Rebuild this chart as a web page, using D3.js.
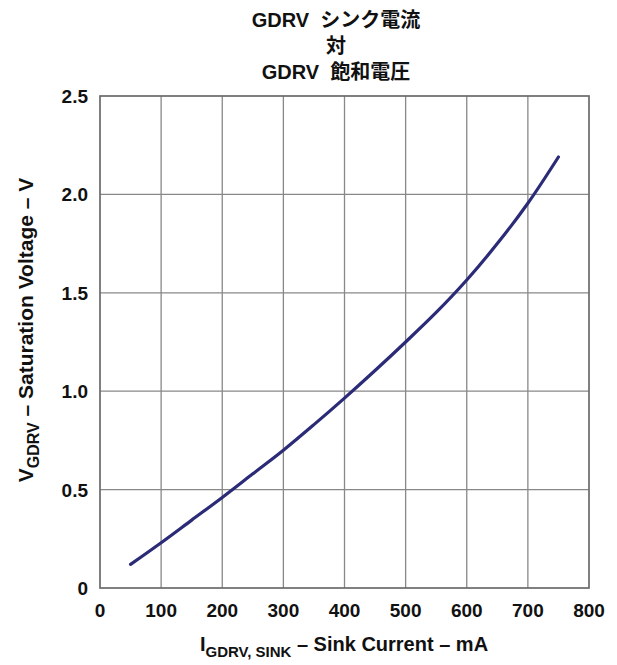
<!DOCTYPE html>
<html><head><meta charset="utf-8">
<script src="https://cdn.jsdelivr.net/npm/d3@7"></script>
<style>body{margin:0;background:#fff}</style>
</head><body>
<svg id="c" width="617" height="665"></svg>
<script>
const currentMA = [50,100,150,200,250,300,350,400,450,500,550,600,650,700,750];
const voltageV  = [0.12,0.23,0.345,0.46,0.58,0.70,0.83,0.965,1.105,1.25,1.40,1.565,1.75,1.955,2.19];
const xTicks = [0,100,200,300,400,500,600,700,800];
const yTicks = [0,0.5,1.0,1.5,2.0,2.5];
const yTickLabels = ["0","0.5","1.0","1.5","2.0","2.5"];
const titleLines = ["GDRV\u00a0\u00a0シンク電流","対","GDRV\u00a0\u00a0飽和電圧"];

const svg = d3.select("#c");
const L=100, R=589, T=96, B=588;
const x = d3.scaleLinear().domain([0,800]).range([L,R]);
const y = d3.scaleLinear().domain([0,2.5]).range([B,T]);
const font = "'Liberation Sans', Arial, 'Noto Sans CJK JP', sans-serif";

// grid
svg.append("g").selectAll("line").data(xTicks.slice(1,-1)).join("line")
  .attr("x1",d=>x(d)).attr("x2",d=>x(d)).attr("y1",T).attr("y2",B)
  .attr("stroke","#888").attr("stroke-width",1.3);
svg.append("g").selectAll("line").data(yTicks.slice(1,-1)).join("line")
  .attr("y1",d=>y(d)).attr("y2",d=>y(d)).attr("x1",L).attr("x2",R)
  .attr("stroke","#888").attr("stroke-width",1.3);
svg.append("rect").attr("x",L).attr("y",T).attr("width",R-L).attr("height",B-T)
  .attr("fill","none").attr("stroke","#6a6a6a").attr("stroke-width",1.7);

// tick labels
svg.append("g").selectAll("text").data(xTicks).join("text")
  .attr("x",d=>x(d)).attr("y",B+29).attr("text-anchor","middle")
  .attr("font-family",font).attr("font-weight","bold").attr("font-size",19).attr("fill","#111")
  .text(d=>d);
svg.append("g").selectAll("text").data(yTicks).join("text")
  .attr("x",L-12).attr("y",d=>y(d)+7).attr("text-anchor","end")
  .attr("font-family",font).attr("font-weight","bold").attr("font-size",19).attr("fill","#111")
  .text((d,i)=>yTickLabels[i]);

// curve
const line = d3.line().x((d,i)=>x(currentMA[i])).y(d=>y(d)).curve(d3.curveCatmullRom);
svg.append("path").datum(voltageV).attr("d",line)
  .attr("fill","none").attr("stroke","#2b2b78").attr("stroke-width",3.2).attr("stroke-linecap","round");

// title
svg.append("g").selectAll("text").data(titleLines).join("text")
  .attr("x",336).attr("y",(d,i)=>[27,53,79][i]).attr("text-anchor","middle")
  .attr("font-family",font).attr("font-weight","bold").attr("font-size",20).attr("fill","#111")
  .text(d=>d);

// x label
const xl = svg.append("text").attr("x",344).attr("y",651).attr("text-anchor","middle")
  .attr("font-family",font).attr("font-weight","bold").attr("font-size",20).attr("fill","#111");
xl.append("tspan").text("I");
xl.append("tspan").attr("font-size",15).attr("dy",6).text("GDRV, SINK");
xl.append("tspan").attr("dy",-6).text(" – Sink Current – mA");

// y label
const yl = svg.append("text").attr("transform","translate(33,330) rotate(-90)").attr("text-anchor","middle")
  .attr("font-family",font).attr("font-weight","bold").attr("font-size",21).attr("fill","#111");
yl.append("tspan").text("V");
yl.append("tspan").attr("font-size",16).attr("dy",6).text("GDRV");
yl.append("tspan").attr("dy",-6).text(" – Saturation Voltage – V");
</script>
</body></html>
